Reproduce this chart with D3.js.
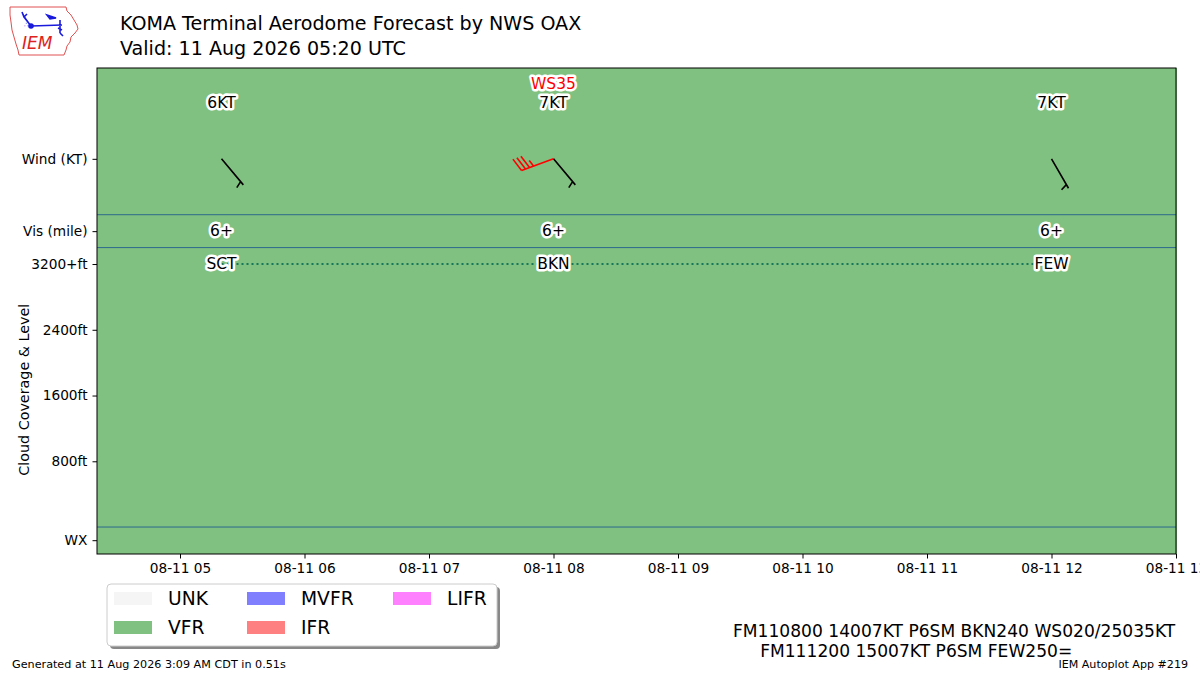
<!DOCTYPE html>
<html>
<head>
<meta charset="utf-8">
<script src="https://cdn.jsdelivr.net/npm/d3@7"></script>
<style>
  body { margin: 0; background: #fff; }
  text { font-family: "DejaVu Sans", sans-serif; }
</style>
</head>
<body>
<div id="chart"></div>
<script>
// forecast groups
const groupTimes = ["2026-08-11T05:20Z", "2026-08-11T08:00Z", "2026-08-11T12:00Z"];
const windDir = [140, 140, 150];
const windSpeed = [6, 7, 7];
const visLabels = ["6+", "6+", "6+"];
const cloudCover = ["SCT", "BKN", "FEW"];
const cloudLevel = [25000, 24000, 25000];
const flightCat = ["VFR", "VFR", "VFR"];

// wind shear
const shearTimes = ["2026-08-11T08:00Z"];
const shearDir = [250];
const shearSpeed = [35];

// axes
const xDomain = ["2026-08-11T04:20Z", "2026-08-11T13:00Z"];
const xTicks = ["2026-08-11T05:00Z", "2026-08-11T06:00Z", "2026-08-11T07:00Z", "2026-08-11T08:00Z",
  "2026-08-11T09:00Z", "2026-08-11T10:00Z", "2026-08-11T11:00Z", "2026-08-11T12:00Z", "2026-08-11T13:00Z"];
const yDomain = [-328, 5585];
const yTickValues = [-160, 800, 1600, 2400, 3200, 3600, 4480];
const yTickLabels = ["WX", "800ft", "1600ft", "2400ft", "3200+ft", "Vis (mile)", "Wind (KT)"];
const bandLines = [0, 3400, 3800];
const cloudCap = 3200;

const legendCats = ["UNK", "VFR", "MVFR", "IFR", "LIFR"];
const catColors = { UNK: "#f5f5f5", VFR: "#80c080", MVFR: "#8080ff", IFR: "#ff8080", LIFR: "#ff80ff" };

const tafLines = ["FM110800 14007KT P6SM BKN240 WS020/25035KT", "     FM111200 15007KT P6SM FEW250="];

// set dimensions and margins
const margin = { top: 68, right: 24, bottom: 121, left: 97 };
const width = 1200 - margin.left - margin.right;
const height = 675 - margin.top - margin.bottom;

const svg = d3.select("#chart").append("svg")
  .attr("width", 1200).attr("height", 675)
  .style("display", "block");

const g = svg.append("g")
  .attr("transform", "translate(" + margin.left + "," + margin.top + ")");

const parse = d3.isoParse;
const x = d3.scaleUtc().domain(xDomain.map(parse)).range([0, width]);
const y = d3.scaleLinear().domain(yDomain).range([height, 0]);

const times = groupTimes.map(parse);

// flight category backgrounds
flightCat.forEach(function(c, i) {
  const x0 = i === 0 ? 0 : x(times[i]);
  const x1 = i === times.length - 1 ? width : x(times[i + 1]);
  g.append("rect")
    .attr("x", Math.floor(x0)).attr("y", 0)
    .attr("width", Math.ceil(x1) - Math.floor(x0) + 1).attr("height", height)
    .attr("shape-rendering", "crispEdges")
    .attr("fill", catColors[c]);
});

// separators between panels
g.selectAll(".band").data(bandLines).join("line")
  .attr("x1", 0).attr("x2", width)
  .attr("y1", d => y(d)).attr("y2", d => y(d))
  .attr("stroke", "#2c6a8c").attr("stroke-width", 1);

// cloud level line
const cloudLine = d3.line()
  .x((d, i) => x(times[i]))
  .y(d => y(Math.min(d, cloudCap)));
g.append("path")
  .datum(cloudLevel)
  .attr("d", cloudLine)
  .attr("fill", "none")
  .attr("stroke", "#17775a")
  .attr("stroke-width", 2)
  .attr("stroke-dasharray", "2,3");

// wind barbs, built like matplotlib barbs
const staffLen = 34, barbSpacing = 4.25, barbHeight = 13.6, barbWidth = 8.5;
function barbPath(dir, speed) {
  const rad = dir * Math.PI / 180;
  const u = [Math.sin(rad), -Math.cos(rad)];
  const p = [-u[1], u[0]];
  const rounded = Math.round(speed / 5) * 5;
  const nFull = Math.floor(rounded / 10);
  const half = rounded % 10 >= 5;
  const pt = (a, b) => [u[0] * a + p[0] * b, u[1] * a + p[1] * b];
  const segs = [[[0, 0], pt(staffLen, 0)]];
  let pos = staffLen;
  if (nFull === 0 && half) pos -= barbSpacing;
  for (let i = 0; i < nFull; i++) {
    segs.push([pt(pos, 0), pt(pos + barbWidth / 2, barbHeight)]);
    pos -= barbSpacing;
  }
  if (half) segs.push([pt(pos, 0), pt(pos + barbWidth / 4, barbHeight / 2)]);
  return segs.map(s => "M" + s[0].join(",") + "L" + s[1].join(",")).join("");
}

const windY = yTickValues[yTickLabels.indexOf("Wind (KT)")];
const visY = yTickValues[yTickLabels.indexOf("Vis (mile)")];

shearTimes.forEach(function(t, i) {
  g.append("path")
    .attr("transform", "translate(" + x(parse(t)) + "," + y(windY) + ")")
    .attr("d", barbPath(shearDir[i], shearSpeed[i]))
    .attr("fill", "none").attr("stroke", "red").attr("stroke-width", 1.6);
});

times.forEach(function(t, i) {
  g.append("path")
    .attr("transform", "translate(" + x(t) + "," + y(windY) + ")")
    .attr("d", barbPath(windDir[i], windSpeed[i]))
    .attr("fill", "none").attr("stroke", "black").attr("stroke-width", 1.6);
});

// labels with white halo
function halo(sel) {
  return sel.attr("text-anchor", "middle")
    .attr("dominant-baseline", "central")
    .attr("font-size", "15.5px")
    .attr("stroke", "white").attr("stroke-width", 5)
    .attr("stroke-linejoin", "round")
    .attr("paint-order", "stroke");
}
const speedLabelY = 5160, shearLabelY = 5390;

times.forEach(function(t, i) {
  halo(g.append("text")).attr("x", x(t)).attr("y", y(speedLabelY)).attr("fill", "black")
    .text(windSpeed[i] + "KT");
  halo(g.append("text")).attr("x", x(t)).attr("y", y(visY)).attr("fill", "black")
    .text(visLabels[i]);
  halo(g.append("text")).attr("x", x(t)).attr("y", y(Math.min(cloudLevel[i], cloudCap))).attr("fill", "black")
    .text(cloudCover[i]);
});
shearTimes.forEach(function(t, i) {
  halo(g.append("text")).attr("x", x(parse(t))).attr("y", y(shearLabelY)).attr("fill", "red")
    .text("WS" + shearSpeed[i]);
});

// frame
g.append("rect").attr("width", width).attr("height", height)
  .attr("fill", "none").attr("stroke", "black").attr("stroke-width", 1);

// x axis
const xAxis = g.append("g")
  .attr("transform", "translate(0," + height + ")")
  .call(d3.axisBottom(x).tickValues(xTicks.map(parse)).tickFormat(d3.utcFormat("%m-%d %H")).tickSize(4.5).tickPadding(5));
xAxis.select(".domain").remove();
xAxis.selectAll("text").attr("font-size", "13.7px").attr("font-family", "DejaVu Sans").attr("fill", "black");

// y axis
const yAxis = g.append("g")
  .call(d3.axisLeft(y).tickValues(yTickValues).tickFormat((d, i) => yTickLabels[i]).tickSize(4.5).tickPadding(5));
yAxis.select(".domain").remove();
yAxis.selectAll("text").attr("font-size", "13.7px").attr("font-family", "DejaVu Sans").attr("fill", "black");

svg.append("text")
  .attr("transform", "translate(29," + (margin.top + y(1670)) + ") rotate(-90)")
  .attr("text-anchor", "middle")
  .attr("font-size", "14.3px")
  .text("Cloud Coverage & Level");

// title
svg.append("text").attr("x", 120).attr("y", 30).attr("font-size", "19.1px").text("KOMA Terminal Aerodome Forecast by NWS OAX");
svg.append("text").attr("x", 120).attr("y", 55).attr("font-size", "19.1px").text("Valid: 11 Aug 2026 05:20 UTC");

// legend
const legend = svg.append("g").attr("transform", "translate(107,584)");
legend.append("rect").attr("x", 3).attr("y", 3).attr("width", 390).attr("height", 62).attr("rx", 4)
  .attr("fill", "#888");
legend.append("rect").attr("width", 390).attr("height", 62).attr("rx", 4)
  .attr("fill", "white").attr("stroke", "#cccccc");
const colX = [7, 140, 286];
legendCats.forEach(function(c, i) {
  const col = Math.floor(i / 2), row = i % 2;
  const it = legend.append("g").attr("transform", "translate(" + colX[col] + "," + (8 + row * 29) + ")");
  it.append("rect").attr("width", 38).attr("height", 13).attr("fill", catColors[c]);
  it.append("text").attr("x", 54).attr("y", 6.5).attr("dominant-baseline", "central")
    .attr("font-size", "18.7px").text(c);
});

// TAF text
svg.append("g").selectAll("text").data(tafLines).join("text")
  .attr("x", 733).attr("y", (d, i) => 637 + i * 20)
  .attr("font-size", "17.1px")
  .attr("xml:space", "preserve")
  .style("white-space", "pre")
  .text(d => d);

// footer
svg.append("text").attr("x", 12).attr("y", 668).attr("font-size", "11.2px")
  .text("Generated at 11 Aug 2026 3:09 AM CDT in 0.51s");
svg.append("text").attr("x", 1188).attr("y", 668).attr("text-anchor", "end").attr("font-size", "11.1px")
  .text("IEM Autoplot App #219");

// IEM logo
const logo = svg.append("g");
logo.append("path")
  .attr("d", "M10,7 L66,7 L67,11 L71,15 L74,20 L77,25 L78,29 L75,33 L71,37 L70,42 L67,46 L66,50 L64,55 L19,55 L18,50 L16,44 L14,37 L12,30 L11,22 L10,15 Z")
  .attr("fill", "none").attr("stroke", "#e05050").attr("stroke-width", 1);
logo.append("path")
  .attr("d", "M31,26 L62,25 M60,20 L60,33 M60,33 L63,36 M58,28 L62,30 M31,26 L24,17 L22,12 M24,17 L27,14 M47,15 L56,18 L50,19 Z")
  .attr("fill", "#1a1adc").attr("stroke", "#1a1adc").attr("stroke-width", 1.6);
logo.append("circle").attr("cx", 31).attr("cy", 26).attr("r", 2.8).attr("fill", "#1a1adc");
logo.append("text").attr("x", 24).attr("y", 27).attr("font-size", "7px").attr("fill", "#1a1adc").text("∴");
logo.append("text").attr("x", 22).attr("y", 49).attr("font-family", "Liberation Serif").attr("font-style", "italic")
  .attr("font-size", "17px").attr("fill", "#dd2222").text("IEM");
</script>
</body>
</html>
